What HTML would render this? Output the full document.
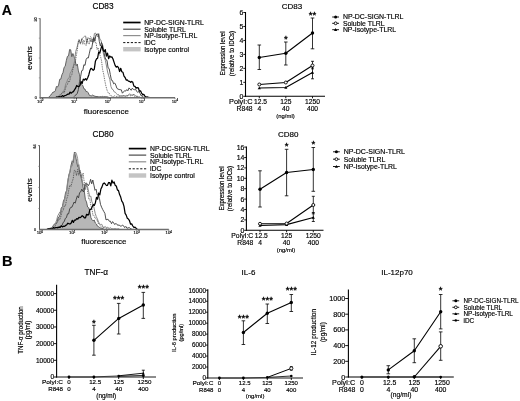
<!DOCTYPE html>
<html><head><meta charset="utf-8"><title>Figure</title>
<style>html,body{margin:0;padding:0;background:#fff;}body{width:520px;height:401px;overflow:hidden;font-family:"Liberation Sans",sans-serif;}svg{display:block;filter:blur(0.3px);}text{stroke:#000;stroke-width:0.16px;}</style>
</head><body>
<svg width="520" height="401" viewBox="0 0 520 401" font-family="Liberation Sans, sans-serif">
<rect width="520" height="401" fill="#fff"/>
<text x="1.8" y="15.2" font-size="14" text-anchor="start" font-weight="bold" fill="#000" >A</text>
<text x="2.0" y="265.7" font-size="14.6" text-anchor="start" font-weight="bold" fill="#000" >B</text>
<polygon points="48.7,97.7 48.7,97.4 49.8,95.9 50.9,95.0 52.0,93.4 53.1,92.0 54.2,92.0 55.3,90.8 56.4,86.5 57.5,87.0 58.6,85.1 59.7,79.3 60.8,79.1 61.9,74.8 63.0,72.6 64.1,67.3 65.2,66.3 66.3,60.6 67.4,56.4 68.5,55.9 69.6,49.5 70.7,49.8 71.8,56.7 72.9,53.5 74.0,56.4 75.1,60.2 76.2,65.6 77.3,64.1 78.4,70.9 79.5,74.6 80.6,81.4 81.7,84.6 82.8,85.4 83.9,88.8 85.0,89.1 86.1,91.6 87.2,91.5 88.3,92.9 89.4,95.4 90.5,95.6 91.6,95.8 92.7,94.9 93.8,96.0 94.9,96.1 96.0,96.6 97.1,96.4 98.2,96.7 99.3,96.8 100.4,96.6 101.5,96.7 102.6,96.4 103.7,96.8 104.8,96.6 105.9,96.8 107.0,96.8 108.1,97.1 109.2,97.6 109.2,97.7" fill="#b7b7b7" stroke="#444" stroke-width="0.8" stroke-linejoin="round"/>
<polyline points="59.2,97.3 60.3,96.1 61.4,93.9 62.5,93.0 63.6,91.7 64.7,88.3 65.8,83.7 66.9,81.5 68.0,78.6 69.1,78.1 70.2,73.1 71.3,71.3 72.4,68.7 73.5,65.6 74.6,60.9 75.7,51.5 76.8,48.1 77.9,43.9 79.0,39.5 80.1,43.3 81.2,41.7 82.3,38.3 83.4,37.4 84.5,36.3 85.6,36.0 86.7,43.3 87.8,38.5 88.9,37.9 90.0,39.4 91.1,42.0 92.2,38.9 93.3,42.1 94.4,33.5 95.5,33.0 96.6,34.9 97.7,37.0 98.8,33.7 99.9,39.3 101.0,40.2 102.1,45.3 103.2,52.7 104.3,57.6 105.4,60.5 106.5,66.0 107.6,72.0 108.7,75.8 109.8,79.3 110.9,86.4 112.0,89.1 113.1,89.7 114.2,91.9 115.3,92.2 116.4,93.5 117.5,94.8 118.6,94.6 119.7,96.1 120.8,95.7 121.9,96.1 123.0,95.4 124.1,96.1 125.2,96.0 126.3,95.4 127.4,95.9 128.5,95.0 129.6,93.7 130.7,95.0 131.8,94.9 132.9,95.0 134.0,94.5 135.1,95.3 136.2,96.5 137.3,96.6 138.4,97.0 139.5,96.9 140.6,97.6 141.7,97.3" fill="none" stroke="#8a8a8a" stroke-width="1.0" stroke-linejoin="round" />
<polyline points="57.5,97.2 58.6,96.1 59.7,95.0 60.8,93.8 61.9,93.2 63.0,91.8 64.1,93.1 65.2,89.6 66.3,85.5 67.4,84.4 68.5,80.9 69.6,81.5 70.7,76.6 71.8,74.8 72.9,69.1 74.0,64.8 75.1,63.4 76.2,56.2 77.3,50.0 78.4,40.9 79.5,40.3 80.6,44.1 81.7,38.4 82.8,44.3 83.9,40.1 85.0,44.5 86.1,45.7 87.2,37.8 88.3,43.8 89.4,43.7 90.5,36.7 91.6,37.7 92.7,43.1 93.8,37.9 94.9,42.6 96.0,42.2 97.1,49.7 98.2,47.9 99.3,54.2 100.4,56.0 101.5,60.5 102.6,69.6 103.7,74.3 104.8,80.7 105.9,86.0 107.0,90.1 108.1,92.7 109.2,93.2 110.3,95.8 111.4,95.9 112.5,96.5 113.6,96.6 114.7,95.8 115.8,96.3 116.9,96.5 118.0,96.3 119.1,96.0 120.2,96.9 121.3,95.5 122.4,96.9 123.5,95.9 124.6,95.7 125.7,96.9 126.8,95.5 127.9,95.8 129.0,95.0 130.1,95.8 131.2,95.5 132.3,95.6 133.4,94.6 134.5,96.4 135.6,96.0 136.7,96.1 137.8,96.4 138.9,97.2 140.0,97.4" fill="none" stroke="#333" stroke-width="0.8" stroke-linejoin="round" stroke-dasharray="0.9,0.9"/>
<polyline points="74.0,96.7 75.1,95.4 76.2,94.8 77.3,93.3 78.4,89.5 79.5,81.7 80.6,76.7 81.7,70.7 82.8,70.3 83.9,64.7 85.0,65.4 86.1,59.5 87.2,57.8 88.3,58.0 89.4,53.2 90.5,48.1 91.6,48.8 92.7,42.6 93.8,37.5 94.9,41.0 96.0,34.7 97.1,34.4 98.2,33.8 99.3,41.3 100.4,46.1 101.5,42.5 102.6,45.1 103.7,50.8 104.8,56.7 105.9,59.7 107.0,60.3 108.1,67.9 109.2,68.7 110.3,74.5 111.4,80.2 112.5,80.6 113.6,83.8 114.7,83.0 115.8,85.0 116.9,88.3 118.0,89.1 119.1,89.5 120.2,89.7 121.3,89.8 122.4,93.2 123.5,92.0 124.6,90.7 125.7,91.1 126.8,89.6 127.9,90.8 129.0,87.9 130.1,89.0 131.2,90.3 132.3,88.2 133.4,89.4 134.5,89.7 135.6,89.2 136.7,91.5 137.8,92.3 138.9,91.6 140.0,93.2 141.1,95.8 142.2,95.5 143.3,97.5" fill="none" stroke="#3a3a3a" stroke-width="0.9" stroke-linejoin="round" />
<polyline points="55.8,97.6 56.9,96.9 58.0,97.3 59.1,96.6 60.2,97.1 61.3,96.7 62.4,95.6 63.5,96.4 64.6,95.7 65.7,95.5 66.8,94.8 67.9,94.1 69.0,94.1 70.1,92.1 71.2,93.2 72.3,92.1 73.4,91.6 74.5,89.8 75.6,88.2 76.7,85.5 77.8,86.4 78.9,86.6 80.0,85.3 81.1,81.5 82.2,83.4 83.3,79.2 84.4,80.0 85.5,78.7 86.6,80.0 87.7,77.7 88.8,74.9 89.9,70.6 91.0,68.3 92.1,69.1 93.2,70.3 94.3,69.2 95.4,61.3 96.5,58.9 97.6,58.2 98.7,52.0 99.8,53.2 100.9,48.9 102.0,45.6 103.1,50.4 104.2,51.6 105.3,49.6 106.4,56.1 107.5,53.1 108.6,58.7 109.7,56.0 110.8,57.1 111.9,56.9 113.0,59.0 114.1,62.4 115.2,65.6 116.3,67.2 117.4,66.3 118.5,67.7 119.6,71.5 120.7,68.3 121.8,71.7 122.9,72.2 124.0,76.2 125.1,77.5 126.2,80.1 127.3,79.9 128.4,81.1 129.5,81.3 130.6,82.3 131.7,81.4 132.8,82.3 133.9,86.1 135.0,86.3 136.1,88.1 137.2,87.6 138.3,87.8 139.4,91.2 140.5,90.8 141.6,93.1 142.7,94.7 143.8,94.4 144.9,96.2 146.0,97.0 147.1,96.9 148.2,97.3 149.3,97.4" fill="none" stroke="#000" stroke-width="1.25" stroke-linejoin="round" />
<line x1="40.1" y1="18.3" x2="40.1" y2="98.2" stroke="#5a5a5a" stroke-width="1" />
<line x1="38.6" y1="18.6" x2="40.1" y2="18.6" stroke="#5a5a5a" stroke-width="0.7" />
<line x1="39.6" y1="97.7" x2="175" y2="97.7" stroke="#6e6e6e" stroke-width="1.6" />
<line x1="40.3" y1="97.7" x2="40.3" y2="99.2" stroke="#6a6a6a" stroke-width="0.8" />
<text x="40.199999999999996" y="102.60000000000001" font-size="4.3" text-anchor="middle" fill="#111">10<tspan dy="-1.5" font-size="2.8">0</tspan></text>
<line x1="74.2" y1="97.7" x2="74.2" y2="99.2" stroke="#6a6a6a" stroke-width="0.8" />
<text x="74.10000000000001" y="102.60000000000001" font-size="4.3" text-anchor="middle" fill="#111">10<tspan dy="-1.5" font-size="2.8">1</tspan></text>
<line x1="108" y1="97.7" x2="108" y2="99.2" stroke="#6a6a6a" stroke-width="0.8" />
<text x="107.9" y="102.60000000000001" font-size="4.3" text-anchor="middle" fill="#111">10<tspan dy="-1.5" font-size="2.8">2</tspan></text>
<line x1="141.9" y1="97.7" x2="141.9" y2="99.2" stroke="#6a6a6a" stroke-width="0.8" />
<text x="141.8" y="102.60000000000001" font-size="4.3" text-anchor="middle" fill="#111">10<tspan dy="-1.5" font-size="2.8">3</tspan></text>
<line x1="175" y1="97.7" x2="175" y2="99.2" stroke="#6a6a6a" stroke-width="0.8" />
<text x="174.9" y="102.60000000000001" font-size="4.3" text-anchor="middle" fill="#111">10<tspan dy="-1.5" font-size="2.8">4</tspan></text>
<line x1="38.800000000000004" y1="77.85" x2="40.1" y2="77.85" stroke="#777" stroke-width="0.6" />
<line x1="38.800000000000004" y1="58.0" x2="40.1" y2="58.0" stroke="#777" stroke-width="0.6" />
<line x1="38.800000000000004" y1="38.15" x2="40.1" y2="38.15" stroke="#777" stroke-width="0.6" />
<text x="36.9" y="19.5" font-size="3.6" text-anchor="middle" font-weight="normal" fill="#222" transform="rotate(-90 36.9 19.5)" >50</text>
<text x="35.7" y="99.0" font-size="3.6" text-anchor="middle" font-weight="normal" fill="#222" >0</text>
<text x="103" y="9.3" font-size="8.3" text-anchor="middle" font-weight="normal" fill="#000" >CD83</text>
<text x="31.8" y="58" font-size="8" text-anchor="middle" font-weight="normal" fill="#000" transform="rotate(-90 31.8 58)" >events</text>
<text x="106.3" y="114.3" font-size="8" text-anchor="middle" font-weight="normal" fill="#000" textLength="45" lengthAdjust="spacingAndGlyphs" >fluorescence</text>
<line x1="123.2" y1="22.5" x2="140.6" y2="22.5" stroke="#000" stroke-width="1.7" />
<line x1="123.2" y1="29.2" x2="140.6" y2="29.2" stroke="#3a3a3a" stroke-width="1.1" />
<line x1="123.2" y1="35.6" x2="140.6" y2="35.6" stroke="#8f8f8f" stroke-width="1.2" />
<line x1="123.2" y1="42.6" x2="140.6" y2="42.6" stroke="#111" stroke-width="1.0" stroke-dasharray="2.2,1.6"/>
<rect x="123.2" y="47.0" width="17.39999999999999" height="4.4" fill="#c4c4c4"/>
<text x="144.2" y="25.2" font-size="6.9" text-anchor="start" font-weight="normal" fill="#000" textLength="59.6" lengthAdjust="spacingAndGlyphs" >NP-DC-SIGN-TLRL</text>
<text x="144.2" y="31.599999999999998" font-size="6.9" text-anchor="start" font-weight="normal" fill="#000" >Soluble TLRL</text>
<text x="144.2" y="38.0" font-size="6.9" text-anchor="start" font-weight="normal" fill="#000" >NP-Isotype-TLRL</text>
<text x="144.2" y="45.0" font-size="6.9" text-anchor="start" font-weight="normal" fill="#000" >iDC</text>
<text x="144.2" y="51.6" font-size="6.9" text-anchor="start" font-weight="normal" fill="#000" >Isotype control</text>
<polygon points="50.2,229.5 50.2,229.2 51.3,227.8 52.4,226.9 53.5,225.3 54.6,223.9 55.7,223.9 56.8,222.6 57.9,218.0 59.0,217.2 60.1,214.5 61.2,208.0 62.3,206.8 63.4,201.1 64.5,198.7 65.6,192.4 66.7,190.4 67.8,181.7 68.9,174.6 70.0,172.1 71.1,165.1 72.2,160.8 73.3,162.4 74.4,152.1 75.5,155.7 76.6,161.4 77.7,166.6 78.8,164.7 79.9,173.6 81.0,177.2 82.1,181.7 83.2,187.8 84.3,191.5 85.4,199.6 86.5,201.9 87.6,207.0 88.7,207.7 89.8,211.2 90.9,217.6 92.0,219.8 93.1,220.9 94.2,220.0 95.3,223.0 96.4,224.0 97.5,226.2 98.6,226.7 99.7,227.5 100.8,228.1 101.9,228.3 103.0,228.9 103.0,229.5" fill="#b7b7b7" stroke="#444" stroke-width="0.8" stroke-linejoin="round"/>
<polyline points="51.2,229.2 52.3,227.8 53.4,225.5 54.5,224.3 55.6,222.9 56.7,219.9 57.8,215.7 58.9,213.8 60.0,211.7 61.1,212.2 62.2,207.5 63.3,204.3 64.4,200.4 65.5,196.3 66.6,190.9 67.7,180.5 68.8,176.1 69.9,170.9 71.0,165.6 72.1,166.1 73.2,159.8 74.3,154.3 75.4,152.0 76.5,154.2 77.6,158.4 78.7,170.4 79.8,169.8 80.9,173.4 82.0,179.1 83.1,184.9 84.2,184.6 85.3,189.6 86.4,184.5 87.5,186.6 88.6,191.5 89.7,196.7 90.8,196.1 91.9,201.9 93.0,204.0 94.1,208.1 95.2,213.4 96.3,216.7 97.4,218.9 98.5,221.9 99.6,223.9 100.7,224.5 101.8,224.3 102.9,227.1 104.0,227.4 105.1,226.5 106.2,227.5 107.3,227.3 108.4,227.8 109.5,228.3 110.6,227.7 111.7,228.9 112.8,228.7 113.9,229.0 115.0,228.6 116.1,229.0 117.2,229.0 118.3,228.7 119.4,229.1" fill="none" stroke="#8a8a8a" stroke-width="1.0" stroke-linejoin="round" />
<polyline points="53.4,228.9 54.5,226.9 55.6,225.0 56.7,222.7 57.8,221.5 58.9,218.6 60.0,219.7 61.1,215.6 62.2,211.0 63.3,210.1 64.4,205.5 65.5,205.7 66.6,199.1 67.7,196.3 68.8,189.7 69.9,185.0 71.0,186.3 72.1,181.9 73.2,178.7 74.3,170.3 75.4,170.6 76.5,175.7 77.6,169.6 78.7,175.2 79.8,170.4 80.9,174.6 82.0,177.6 83.1,173.0 84.2,182.0 85.3,185.9 86.4,184.5 87.5,190.2 88.6,198.7 89.7,198.4 90.8,205.2 91.9,208.7 93.0,215.5 94.1,215.7 95.2,218.4 96.3,219.0 97.4,220.9 98.5,224.0 99.6,224.8 100.7,226.2 101.8,227.2 102.9,228.2 104.0,228.0 105.1,227.8 106.2,228.9 107.3,228.2 108.4,228.8 109.5,229.1" fill="none" stroke="#333" stroke-width="0.8" stroke-linejoin="round" stroke-dasharray="0.9,0.9"/>
<polyline points="57.6,228.8 58.7,227.3 59.8,226.6 60.9,226.0 62.0,225.6 63.1,222.5 64.2,221.7 65.3,218.4 66.4,217.7 67.5,213.8 68.6,213.9 69.7,209.0 70.8,207.3 71.9,207.2 73.0,204.7 74.1,202.0 75.2,203.2 76.3,199.1 77.4,195.8 78.5,197.9 79.6,192.6 80.7,191.9 81.8,189.1 82.9,191.4 84.0,191.6 85.1,184.5 86.2,182.8 87.3,184.1 88.4,185.7 89.5,183.5 90.6,179.3 91.7,183.8 92.8,180.0 93.9,185.1 95.0,190.3 96.1,189.2 97.2,194.9 98.3,194.5 99.4,198.3 100.5,204.4 101.6,207.2 102.7,209.5 103.8,211.5 104.9,213.4 106.0,219.9 107.1,219.4 108.2,219.4 109.3,221.3 110.4,221.2 111.5,223.7 112.6,221.6 113.7,223.0 114.8,224.6 115.9,223.3 117.0,224.7 118.1,225.3 119.2,224.9 120.3,226.1 121.4,226.2 122.5,225.0 123.6,225.8 124.7,227.6 125.8,226.4 126.9,228.2 128.0,228.0 129.1,227.5 130.2,228.3 131.3,229.0 132.4,229.3" fill="none" stroke="#3a3a3a" stroke-width="0.9" stroke-linejoin="round" />
<polyline points="47.0,229.4 48.1,228.7 49.2,229.1 50.3,228.4 51.4,228.9 52.5,228.6 53.6,227.5 54.7,228.3 55.8,227.5 56.9,227.6 58.0,227.4 59.1,227.2 60.2,227.4 61.3,225.9 62.4,226.9 63.5,226.2 64.6,226.3 65.7,225.4 66.8,224.7 67.9,223.2 69.0,223.8 70.1,223.9 71.2,223.0 72.3,220.3 73.4,222.4 74.5,220.1 75.6,220.2 76.7,218.7 77.8,219.1 78.9,217.3 80.0,217.7 81.1,216.9 82.2,215.7 83.3,216.5 84.4,217.9 85.5,217.9 86.6,214.3 87.7,215.1 88.8,214.4 89.9,209.4 91.0,209.4 92.1,207.0 93.2,204.6 94.3,205.4 95.4,202.7 96.5,197.3 97.6,199.1 98.7,193.0 99.8,194.9 100.9,189.0 102.0,186.9 103.1,183.8 104.2,183.0 105.3,184.0 106.4,185.5 107.5,185.3 108.6,182.5 109.7,182.7 110.8,185.9 111.9,180.2 113.0,183.1 114.1,181.9 115.2,185.4 116.3,186.0 117.4,189.9 118.5,190.6 119.6,194.6 120.7,197.1 121.8,201.2 122.9,202.7 124.0,206.4 125.1,213.4 126.2,215.1 127.3,218.3 128.4,219.1 129.5,220.7 130.6,224.2 131.7,223.9 132.8,226.0 133.9,227.5 135.0,227.1 136.1,228.3 137.2,229.1" fill="none" stroke="#000" stroke-width="1.25" stroke-linejoin="round" />
<line x1="39.5" y1="145.3" x2="39.5" y2="230.0" stroke="#5a5a5a" stroke-width="1" />
<line x1="38.0" y1="145.60000000000002" x2="39.5" y2="145.60000000000002" stroke="#5a5a5a" stroke-width="0.7" />
<line x1="39.0" y1="229.5" x2="168.8" y2="229.5" stroke="#6e6e6e" stroke-width="1.6" />
<line x1="40" y1="229.5" x2="40" y2="231.0" stroke="#6a6a6a" stroke-width="0.8" />
<text x="39.9" y="234.4" font-size="4.3" text-anchor="middle" fill="#111">10<tspan dy="-1.5" font-size="2.8">0</tspan></text>
<line x1="72.3" y1="229.5" x2="72.3" y2="231.0" stroke="#6a6a6a" stroke-width="0.8" />
<text x="72.2" y="234.4" font-size="4.3" text-anchor="middle" fill="#111">10<tspan dy="-1.5" font-size="2.8">1</tspan></text>
<line x1="104.6" y1="229.5" x2="104.6" y2="231.0" stroke="#6a6a6a" stroke-width="0.8" />
<text x="104.5" y="234.4" font-size="4.3" text-anchor="middle" fill="#111">10<tspan dy="-1.5" font-size="2.8">2</tspan></text>
<line x1="136.8" y1="229.5" x2="136.8" y2="231.0" stroke="#6a6a6a" stroke-width="0.8" />
<text x="136.70000000000002" y="234.4" font-size="4.3" text-anchor="middle" fill="#111">10<tspan dy="-1.5" font-size="2.8">3</tspan></text>
<line x1="168.8" y1="229.5" x2="168.8" y2="231.0" stroke="#6a6a6a" stroke-width="0.8" />
<text x="168.70000000000002" y="234.4" font-size="4.3" text-anchor="middle" fill="#111">10<tspan dy="-1.5" font-size="2.8">4</tspan></text>
<line x1="38.2" y1="208.45" x2="39.5" y2="208.45" stroke="#777" stroke-width="0.6" />
<line x1="38.2" y1="187.4" x2="39.5" y2="187.4" stroke="#777" stroke-width="0.6" />
<line x1="38.2" y1="166.35000000000002" x2="39.5" y2="166.35000000000002" stroke="#777" stroke-width="0.6" />
<text x="36.3" y="146.5" font-size="3.6" text-anchor="middle" font-weight="normal" fill="#222" transform="rotate(-90 36.3 146.5)" >64</text>
<text x="35.1" y="230.8" font-size="3.6" text-anchor="middle" font-weight="normal" fill="#222" >0</text>
<text x="103" y="137.3" font-size="8.3" text-anchor="middle" font-weight="normal" fill="#000" >CD80</text>
<text x="31.8" y="190" font-size="8" text-anchor="middle" font-weight="normal" fill="#000" transform="rotate(-90 31.8 190)" >events</text>
<text x="103.8" y="244.3" font-size="8" text-anchor="middle" font-weight="normal" fill="#000" textLength="45" lengthAdjust="spacingAndGlyphs" >fluorescence</text>
<line x1="128.8" y1="148.6" x2="146.2" y2="148.6" stroke="#000" stroke-width="1.7" />
<line x1="128.8" y1="155.1" x2="146.2" y2="155.1" stroke="#3a3a3a" stroke-width="1.1" />
<line x1="128.8" y1="161.8" x2="146.2" y2="161.8" stroke="#8f8f8f" stroke-width="1.2" />
<line x1="128.8" y1="168.8" x2="146.2" y2="168.8" stroke="#111" stroke-width="1.0" stroke-dasharray="2.2,1.6"/>
<rect x="128.8" y="173.3" width="17.399999999999977" height="4.4" fill="#c4c4c4"/>
<text x="150" y="151.3" font-size="6.9" text-anchor="start" font-weight="normal" fill="#000" textLength="59.6" lengthAdjust="spacingAndGlyphs" >NP-DC-SIGN-TLRL</text>
<text x="150" y="157.5" font-size="6.9" text-anchor="start" font-weight="normal" fill="#000" >Soluble TLRL</text>
<text x="150" y="164.20000000000002" font-size="6.9" text-anchor="start" font-weight="normal" fill="#000" >NP-Isotype-TLRL</text>
<text x="150" y="171.20000000000002" font-size="6.9" text-anchor="start" font-weight="normal" fill="#000" >iDC</text>
<text x="150" y="177.9" font-size="6.9" text-anchor="start" font-weight="normal" fill="#000" >Isotype control</text>
<line x1="245.5" y1="12.0" x2="245.5" y2="96.8" stroke="#000" stroke-width="1.1" />
<line x1="245.0" y1="96.3" x2="325" y2="96.3" stroke="#000" stroke-width="1.1" />
<line x1="243.3" y1="96.3" x2="245.5" y2="96.3" stroke="#000" stroke-width="0.9" />
<text x="243.4" y="98.78399999999999" font-size="6.9" text-anchor="end" font-weight="normal" fill="#000" >0</text>
<line x1="243.3" y1="82.335" x2="245.5" y2="82.335" stroke="#000" stroke-width="0.9" />
<text x="243.4" y="84.81899999999999" font-size="6.9" text-anchor="end" font-weight="normal" fill="#000" >1</text>
<line x1="243.3" y1="68.37" x2="245.5" y2="68.37" stroke="#000" stroke-width="0.9" />
<text x="243.4" y="70.854" font-size="6.9" text-anchor="end" font-weight="normal" fill="#000" >2</text>
<line x1="243.3" y1="54.404999999999994" x2="245.5" y2="54.404999999999994" stroke="#000" stroke-width="0.9" />
<text x="243.4" y="56.888999999999996" font-size="6.9" text-anchor="end" font-weight="normal" fill="#000" >3</text>
<line x1="243.3" y1="40.44" x2="245.5" y2="40.44" stroke="#000" stroke-width="0.9" />
<text x="243.4" y="42.924" font-size="6.9" text-anchor="end" font-weight="normal" fill="#000" >4</text>
<line x1="243.3" y1="26.474999999999994" x2="245.5" y2="26.474999999999994" stroke="#000" stroke-width="0.9" />
<text x="243.4" y="28.958999999999996" font-size="6.9" text-anchor="end" font-weight="normal" fill="#000" >5</text>
<line x1="243.3" y1="12.509999999999991" x2="245.5" y2="12.509999999999991" stroke="#000" stroke-width="0.9" />
<text x="243.4" y="14.993999999999991" font-size="6.9" text-anchor="end" font-weight="normal" fill="#000" >6</text>
<line x1="259.3" y1="96.3" x2="259.3" y2="98.3" stroke="#000" stroke-width="0.9" />
<line x1="285.8" y1="96.3" x2="285.8" y2="98.3" stroke="#000" stroke-width="0.9" />
<line x1="312.5" y1="96.3" x2="312.5" y2="98.3" stroke="#000" stroke-width="0.9" />
<line x1="259.3" y1="45" x2="259.3" y2="69.5" stroke="#000" stroke-width="0.8" />
<line x1="257.5" y1="45" x2="261.1" y2="45" stroke="#000" stroke-width="0.8" />
<line x1="257.5" y1="69.5" x2="261.1" y2="69.5" stroke="#000" stroke-width="0.8" />
<line x1="285.8" y1="42" x2="285.8" y2="65" stroke="#000" stroke-width="0.8" />
<line x1="284.0" y1="42" x2="287.6" y2="42" stroke="#000" stroke-width="0.8" />
<line x1="284.0" y1="65" x2="287.6" y2="65" stroke="#000" stroke-width="0.8" />
<line x1="312.5" y1="18" x2="312.5" y2="48.8" stroke="#000" stroke-width="0.8" />
<line x1="310.7" y1="18" x2="314.3" y2="18" stroke="#000" stroke-width="0.8" />
<line x1="310.7" y1="48.8" x2="314.3" y2="48.8" stroke="#000" stroke-width="0.8" />
<polyline points="259.3,57.5 285.8,53.3 312.5,33.0" fill="none" stroke="#000" stroke-width="1.1" stroke-linejoin="round" />
<line x1="312.5" y1="61.3" x2="312.5" y2="68.8" stroke="#000" stroke-width="0.8" />
<line x1="311.0" y1="61.3" x2="314.0" y2="61.3" stroke="#000" stroke-width="0.8" />
<line x1="311.0" y1="68.8" x2="314.0" y2="68.8" stroke="#000" stroke-width="0.8" />
<line x1="312.5" y1="67" x2="312.5" y2="78.8" stroke="#000" stroke-width="0.8" />
<line x1="311.0" y1="67" x2="314.0" y2="67" stroke="#000" stroke-width="0.8" />
<line x1="311.0" y1="78.8" x2="314.0" y2="78.8" stroke="#000" stroke-width="0.8" />
<polyline points="259.3,88.0 285.8,87.5 312.5,72.5" fill="none" stroke="#000" stroke-width="1.1" stroke-linejoin="round" />
<polyline points="259.3,84.5 285.8,82.5 312.5,65.5" fill="none" stroke="#000" stroke-width="1.1" stroke-linejoin="round" />
<circle cx="259.3" cy="57.5" r="1.7" fill="#000"/>
<circle cx="285.8" cy="53.3" r="1.7" fill="#000"/>
<circle cx="312.5" cy="33" r="1.7" fill="#000"/>
<polygon points="259.3,86.4 260.90000000000003,89.28 257.7,89.28" fill="#000"/>
<polygon points="285.8,85.9 287.40000000000003,88.78 284.2,88.78" fill="#000"/>
<polygon points="312.5,70.9 314.1,73.78 310.9,73.78" fill="#000"/>
<circle cx="259.3" cy="84.5" r="1.5" fill="#fff" stroke="#000" stroke-width="0.9"/>
<circle cx="285.8" cy="82.5" r="1.5" fill="#fff" stroke="#000" stroke-width="0.9"/>
<circle cx="312.5" cy="65.5" r="1.5" fill="#fff" stroke="#000" stroke-width="0.9"/>
<text x="285.8" y="41.82" font-size="9.6" text-anchor="middle" font-weight="normal" fill="#000" style="stroke-width:0.35px">*</text>
<text x="312.5" y="18.12" font-size="9.6" text-anchor="middle" font-weight="normal" fill="#000" style="stroke-width:0.35px">**</text>
<text x="292" y="8.5" font-size="8" text-anchor="middle" font-weight="normal" fill="#000" >CD83</text>
<text x="225.4" y="53.5" font-size="6.8" text-anchor="middle" font-weight="normal" fill="#000" textLength="44" lengthAdjust="spacingAndGlyphs" transform="rotate(-90 225.4 53.5)" >Expression level</text>
<text x="233.7" y="53.5" font-size="6.8" text-anchor="middle" font-weight="normal" fill="#000" textLength="45.3" lengthAdjust="spacingAndGlyphs" transform="rotate(-90 233.7 53.5)" >(relative to iDCs)</text>
<text x="252.6" y="104.4" font-size="6.7" text-anchor="end" font-weight="normal" fill="#000" textLength="23.6" lengthAdjust="spacingAndGlyphs" >PolyI:C</text>
<text x="252.6" y="111.3" font-size="6.7" text-anchor="end" font-weight="normal" fill="#000" >R848</text>
<text x="260.6" y="104.4" font-size="6.7" text-anchor="middle" font-weight="normal" fill="#000" >12.5</text>
<text x="285.8" y="104.4" font-size="6.7" text-anchor="middle" font-weight="normal" fill="#000" >125</text>
<text x="312.5" y="104.4" font-size="6.7" text-anchor="middle" font-weight="normal" fill="#000" >1250</text>
<text x="259.3" y="111.3" font-size="6.7" text-anchor="middle" font-weight="normal" fill="#000" >4</text>
<text x="285.8" y="111.3" font-size="6.7" text-anchor="middle" font-weight="normal" fill="#000" >40</text>
<text x="312.5" y="111.3" font-size="6.7" text-anchor="middle" font-weight="normal" fill="#000" >400</text>
<text x="285.5" y="118" font-size="5.9" text-anchor="middle" font-weight="normal" fill="#000" >(ng/ml)</text>
<line x1="332.20000000000005" y1="17.0" x2="339.0" y2="17.0" stroke="#000" stroke-width="0.9" />
<circle cx="335.6" cy="17.0" r="1.5" fill="#000"/>
<text x="342.9" y="19.4" font-size="6.9" text-anchor="start" font-weight="normal" fill="#000" textLength="60.5" lengthAdjust="spacingAndGlyphs" >NP-DC-SIGN-TLRL</text>
<line x1="332.20000000000005" y1="23.3" x2="339.0" y2="23.3" stroke="#000" stroke-width="0.9" />
<circle cx="335.6" cy="23.3" r="1.4" fill="#fff" stroke="#000" stroke-width="0.9"/>
<text x="342.9" y="25.7" font-size="6.9" text-anchor="start" font-weight="normal" fill="#000" >Soluble TLRL</text>
<line x1="332.20000000000005" y1="29.7" x2="339.0" y2="29.7" stroke="#000" stroke-width="0.9" />
<polygon points="335.6,28.099999999999998 337.20000000000005,30.98 334.0,30.98" fill="#000"/>
<text x="342.9" y="32.1" font-size="6.9" text-anchor="start" font-weight="normal" fill="#000" >NP-Isotype-TLRL</text>
<line x1="246.4" y1="146.6" x2="246.4" y2="230.8" stroke="#000" stroke-width="1.1" />
<line x1="245.9" y1="230.3" x2="323.5" y2="230.3" stroke="#000" stroke-width="1.1" />
<line x1="244.20000000000002" y1="230.3" x2="246.4" y2="230.3" stroke="#000" stroke-width="0.9" />
<text x="244.3" y="232.78400000000002" font-size="6.9" text-anchor="end" font-weight="normal" fill="#000" >0</text>
<line x1="244.20000000000002" y1="219.9" x2="246.4" y2="219.9" stroke="#000" stroke-width="0.9" />
<text x="244.3" y="222.38400000000001" font-size="6.9" text-anchor="end" font-weight="normal" fill="#000" >2</text>
<line x1="244.20000000000002" y1="209.5" x2="246.4" y2="209.5" stroke="#000" stroke-width="0.9" />
<text x="244.3" y="211.984" font-size="6.9" text-anchor="end" font-weight="normal" fill="#000" >4</text>
<line x1="244.20000000000002" y1="199.10000000000002" x2="246.4" y2="199.10000000000002" stroke="#000" stroke-width="0.9" />
<text x="244.3" y="201.58400000000003" font-size="6.9" text-anchor="end" font-weight="normal" fill="#000" >6</text>
<line x1="244.20000000000002" y1="188.70000000000002" x2="246.4" y2="188.70000000000002" stroke="#000" stroke-width="0.9" />
<text x="244.3" y="191.18400000000003" font-size="6.9" text-anchor="end" font-weight="normal" fill="#000" >8</text>
<line x1="244.20000000000002" y1="178.3" x2="246.4" y2="178.3" stroke="#000" stroke-width="0.9" />
<text x="244.3" y="180.78400000000002" font-size="6.9" text-anchor="end" font-weight="normal" fill="#000" >10</text>
<line x1="244.20000000000002" y1="167.9" x2="246.4" y2="167.9" stroke="#000" stroke-width="0.9" />
<text x="244.3" y="170.38400000000001" font-size="6.9" text-anchor="end" font-weight="normal" fill="#000" >12</text>
<line x1="244.20000000000002" y1="157.5" x2="246.4" y2="157.5" stroke="#000" stroke-width="0.9" />
<text x="244.3" y="159.984" font-size="6.9" text-anchor="end" font-weight="normal" fill="#000" >14</text>
<line x1="244.20000000000002" y1="147.10000000000002" x2="246.4" y2="147.10000000000002" stroke="#000" stroke-width="0.9" />
<text x="244.3" y="149.58400000000003" font-size="6.9" text-anchor="end" font-weight="normal" fill="#000" >16</text>
<line x1="260" y1="230.3" x2="260" y2="232.3" stroke="#000" stroke-width="0.9" />
<line x1="286.6" y1="230.3" x2="286.6" y2="232.3" stroke="#000" stroke-width="0.9" />
<line x1="313.3" y1="230.3" x2="313.3" y2="232.3" stroke="#000" stroke-width="0.9" />
<line x1="260" y1="170.8" x2="260" y2="207" stroke="#000" stroke-width="0.8" />
<line x1="258.2" y1="170.8" x2="261.8" y2="170.8" stroke="#000" stroke-width="0.8" />
<line x1="258.2" y1="207" x2="261.8" y2="207" stroke="#000" stroke-width="0.8" />
<line x1="286.6" y1="149.3" x2="286.6" y2="195.8" stroke="#000" stroke-width="0.8" />
<line x1="284.8" y1="149.3" x2="288.40000000000003" y2="149.3" stroke="#000" stroke-width="0.8" />
<line x1="284.8" y1="195.8" x2="288.40000000000003" y2="195.8" stroke="#000" stroke-width="0.8" />
<line x1="313.3" y1="147.5" x2="313.3" y2="191.3" stroke="#000" stroke-width="0.8" />
<line x1="311.5" y1="147.5" x2="315.1" y2="147.5" stroke="#000" stroke-width="0.8" />
<line x1="311.5" y1="191.3" x2="315.1" y2="191.3" stroke="#000" stroke-width="0.8" />
<polyline points="260.0,189.3 286.6,172.5 313.3,169.5" fill="none" stroke="#000" stroke-width="1.1" stroke-linejoin="round" />
<line x1="313.3" y1="196.3" x2="313.3" y2="213.8" stroke="#000" stroke-width="0.8" />
<line x1="311.8" y1="196.3" x2="314.8" y2="196.3" stroke="#000" stroke-width="0.8" />
<line x1="311.8" y1="213.8" x2="314.8" y2="213.8" stroke="#000" stroke-width="0.8" />
<line x1="313.3" y1="212.5" x2="313.3" y2="221.5" stroke="#000" stroke-width="0.8" />
<line x1="311.8" y1="212.5" x2="314.8" y2="212.5" stroke="#000" stroke-width="0.8" />
<line x1="311.8" y1="221.5" x2="314.8" y2="221.5" stroke="#000" stroke-width="0.8" />
<polyline points="260.0,225.5 286.6,224.6 313.3,217.5" fill="none" stroke="#000" stroke-width="1.1" stroke-linejoin="round" />
<polyline points="260.0,223.8 286.6,223.5 313.3,205.0" fill="none" stroke="#000" stroke-width="1.1" stroke-linejoin="round" />
<circle cx="260" cy="189.3" r="1.7" fill="#000"/>
<circle cx="286.6" cy="172.5" r="1.7" fill="#000"/>
<circle cx="313.3" cy="169.5" r="1.7" fill="#000"/>
<polygon points="260,223.9 261.6,226.78 258.4,226.78" fill="#000"/>
<polygon points="286.6,223.0 288.20000000000005,225.88 285.0,225.88" fill="#000"/>
<polygon points="313.3,215.9 314.90000000000003,218.78 311.7,218.78" fill="#000"/>
<circle cx="260" cy="223.8" r="1.5" fill="#fff" stroke="#000" stroke-width="0.9"/>
<circle cx="286.6" cy="223.5" r="1.5" fill="#fff" stroke="#000" stroke-width="0.9"/>
<circle cx="313.3" cy="205" r="1.5" fill="#fff" stroke="#000" stroke-width="0.9"/>
<text x="286.6" y="148.62" font-size="9.6" text-anchor="middle" font-weight="normal" fill="#000" style="stroke-width:0.35px">*</text>
<text x="313.3" y="147.32" font-size="9.6" text-anchor="middle" font-weight="normal" fill="#000" style="stroke-width:0.35px">*</text>
<text x="288.3" y="136.8" font-size="8" text-anchor="middle" font-weight="normal" fill="#000" >CD80</text>
<text x="223.5" y="188.5" font-size="6.8" text-anchor="middle" font-weight="normal" fill="#000" textLength="44" lengthAdjust="spacingAndGlyphs" transform="rotate(-90 223.5 188.5)" >Expression level</text>
<text x="231.8" y="188.5" font-size="6.8" text-anchor="middle" font-weight="normal" fill="#000" textLength="45.3" lengthAdjust="spacingAndGlyphs" transform="rotate(-90 231.8 188.5)" >(relative to iDCs)</text>
<text x="253.3" y="237.7" font-size="6.7" text-anchor="end" font-weight="normal" fill="#000" textLength="22" lengthAdjust="spacingAndGlyphs" >PolyI:C</text>
<text x="253.3" y="245.3" font-size="6.7" text-anchor="end" font-weight="normal" fill="#000" >R848</text>
<text x="261.3" y="237.7" font-size="6.7" text-anchor="middle" font-weight="normal" fill="#000" >12.5</text>
<text x="286.6" y="237.7" font-size="6.7" text-anchor="middle" font-weight="normal" fill="#000" >125</text>
<text x="313.3" y="237.7" font-size="6.7" text-anchor="middle" font-weight="normal" fill="#000" >1250</text>
<text x="260" y="245.3" font-size="6.7" text-anchor="middle" font-weight="normal" fill="#000" >4</text>
<text x="286.6" y="245.3" font-size="6.7" text-anchor="middle" font-weight="normal" fill="#000" >40</text>
<text x="313.3" y="245.3" font-size="6.7" text-anchor="middle" font-weight="normal" fill="#000" >400</text>
<text x="286" y="251.8" font-size="5.9" text-anchor="middle" font-weight="normal" fill="#000" >(ng/ml)</text>
<line x1="333.0" y1="151.8" x2="339.79999999999995" y2="151.8" stroke="#000" stroke-width="0.9" />
<circle cx="336.4" cy="151.8" r="1.5" fill="#000"/>
<text x="343.7" y="154.20000000000002" font-size="6.9" text-anchor="start" font-weight="normal" fill="#000" textLength="61.2" lengthAdjust="spacingAndGlyphs" >NP-DC-SIGN-TLRL</text>
<line x1="333.0" y1="159.2" x2="339.79999999999995" y2="159.2" stroke="#000" stroke-width="0.9" />
<circle cx="336.4" cy="159.2" r="1.4" fill="#fff" stroke="#000" stroke-width="0.9"/>
<text x="343.7" y="161.6" font-size="6.9" text-anchor="start" font-weight="normal" fill="#000" >Soluble TLRL</text>
<line x1="333.0" y1="166.5" x2="339.79999999999995" y2="166.5" stroke="#000" stroke-width="0.9" />
<polygon points="336.4,164.9 338.0,167.78 334.79999999999995,167.78" fill="#000"/>
<text x="343.7" y="168.9" font-size="6.9" text-anchor="start" font-weight="normal" fill="#000" >NP-Isotype-TLRL</text>
<line x1="56.6" y1="284.8" x2="56.6" y2="377.5" stroke="#000" stroke-width="1.1" />
<line x1="56.1" y1="377.0" x2="156" y2="377.0" stroke="#000" stroke-width="0.9" />
<line x1="53.9" y1="377.0" x2="56.6" y2="377.0" stroke="#000" stroke-width="0.9" />
<text x="54.0" y="379.34" font-size="6.5" text-anchor="end" font-weight="normal" fill="#000" >0</text>
<line x1="53.9" y1="360.32" x2="56.6" y2="360.32" stroke="#000" stroke-width="0.9" />
<text x="54.0" y="362.65999999999997" font-size="6.5" text-anchor="end" font-weight="normal" fill="#000" >10000</text>
<line x1="53.9" y1="343.64" x2="56.6" y2="343.64" stroke="#000" stroke-width="0.9" />
<text x="54.0" y="345.97999999999996" font-size="6.5" text-anchor="end" font-weight="normal" fill="#000" >20000</text>
<line x1="53.9" y1="326.96" x2="56.6" y2="326.96" stroke="#000" stroke-width="0.9" />
<text x="54.0" y="329.29999999999995" font-size="6.5" text-anchor="end" font-weight="normal" fill="#000" >30000</text>
<line x1="53.9" y1="310.28" x2="56.6" y2="310.28" stroke="#000" stroke-width="0.9" />
<text x="54.0" y="312.61999999999995" font-size="6.5" text-anchor="end" font-weight="normal" fill="#000" >40000</text>
<line x1="53.9" y1="293.6" x2="56.6" y2="293.6" stroke="#000" stroke-width="0.9" />
<text x="54.0" y="295.94" font-size="6.5" text-anchor="end" font-weight="normal" fill="#000" >50000</text>
<line x1="69" y1="377.0" x2="69" y2="379.0" stroke="#000" stroke-width="0.9" />
<line x1="93.9" y1="377.0" x2="93.9" y2="379.0" stroke="#000" stroke-width="0.9" />
<line x1="118.7" y1="377.0" x2="118.7" y2="379.0" stroke="#000" stroke-width="0.9" />
<line x1="143.3" y1="377.0" x2="143.3" y2="379.0" stroke="#000" stroke-width="0.9" />
<line x1="93.9" y1="325.3" x2="93.9" y2="355.2" stroke="#000" stroke-width="0.8" />
<line x1="92.10000000000001" y1="325.3" x2="95.7" y2="325.3" stroke="#000" stroke-width="0.8" />
<line x1="92.10000000000001" y1="355.2" x2="95.7" y2="355.2" stroke="#000" stroke-width="0.8" />
<line x1="118.7" y1="303.4" x2="118.7" y2="334" stroke="#000" stroke-width="0.8" />
<line x1="116.9" y1="303.4" x2="120.5" y2="303.4" stroke="#000" stroke-width="0.8" />
<line x1="116.9" y1="334" x2="120.5" y2="334" stroke="#000" stroke-width="0.8" />
<line x1="143.3" y1="292.4" x2="143.3" y2="318.4" stroke="#000" stroke-width="0.8" />
<line x1="141.5" y1="292.4" x2="145.10000000000002" y2="292.4" stroke="#000" stroke-width="0.8" />
<line x1="141.5" y1="318.4" x2="145.10000000000002" y2="318.4" stroke="#000" stroke-width="0.8" />
<polyline points="93.9,340.3 118.7,318.4 143.3,305.0" fill="none" stroke="#000" stroke-width="1.1" stroke-linejoin="round" />
<line x1="143.3" y1="370.2" x2="143.3" y2="376" stroke="#000" stroke-width="0.8" />
<line x1="141.8" y1="370.2" x2="144.8" y2="370.2" stroke="#000" stroke-width="0.8" />
<line x1="141.8" y1="376" x2="144.8" y2="376" stroke="#000" stroke-width="0.8" />
<polyline points="69.0,377.0 93.9,377.0 118.7,375.8" fill="none" stroke="#000" stroke-width="0.6" stroke-linejoin="round" />
<polyline points="118.7,375.8 143.3,373.2" fill="none" stroke="#000" stroke-width="0.9" stroke-linejoin="round" />
<polyline points="118.7,376.3 143.3,375.4" fill="none" stroke="#000" stroke-width="0.8" stroke-linejoin="round" />
<circle cx="93.9" cy="340.3" r="1.7" fill="#000"/>
<circle cx="118.7" cy="318.4" r="1.7" fill="#000"/>
<circle cx="143.3" cy="305" r="1.7" fill="#000"/>
<circle cx="69" cy="377.0" r="1.4" fill="#000"/>
<circle cx="93.9" cy="377.0" r="1.4" fill="#000"/>
<circle cx="118.7" cy="376" r="1.3" fill="#000"/>
<polygon points="143.3,371.9 144.8,374.59999999999997 141.8,374.59999999999997" fill="#000"/>
<circle cx="143.3" cy="375.6" r="1.3" fill="#000"/>
<text x="93.9" y="325.71999999999997" font-size="9.6" text-anchor="middle" font-weight="normal" fill="#000" style="stroke-width:0.35px">*</text>
<text x="118.7" y="301.82" font-size="9.6" text-anchor="middle" font-weight="normal" fill="#000" style="stroke-width:0.35px">***</text>
<text x="143.3" y="290.71999999999997" font-size="9.6" text-anchor="middle" font-weight="normal" fill="#000" style="stroke-width:0.35px">***</text>
<text x="96.3" y="274.8" font-size="8.2" text-anchor="middle" font-weight="normal" fill="#000" >TNF-α</text>
<text x="22.8" y="330" font-size="6.6" text-anchor="middle" font-weight="normal" fill="#000" textLength="47.5" lengthAdjust="spacingAndGlyphs" transform="rotate(-90 22.8 330)" >TNF-α production</text>
<text x="30.4" y="330" font-size="6.6" text-anchor="middle" font-weight="normal" fill="#000" textLength="18.3" lengthAdjust="spacingAndGlyphs" transform="rotate(-90 30.4 330)" >(pg/ml)</text>
<text x="63" y="384.1" font-size="6.2" text-anchor="end" font-weight="normal" fill="#000" textLength="21" lengthAdjust="spacingAndGlyphs" >PolyI:C</text>
<text x="63" y="391.4" font-size="6.2" text-anchor="end" font-weight="normal" fill="#000" >R848</text>
<text x="69" y="384.1" font-size="6.2" text-anchor="middle" font-weight="normal" fill="#000" >0</text>
<text x="95.2" y="384.1" font-size="6.2" text-anchor="middle" font-weight="normal" fill="#000" >12.5</text>
<text x="118.7" y="384.1" font-size="6.2" text-anchor="middle" font-weight="normal" fill="#000" >125</text>
<text x="144.5" y="384.1" font-size="6.2" text-anchor="middle" font-weight="normal" fill="#000" >1250</text>
<text x="69" y="391.4" font-size="6.2" text-anchor="middle" font-weight="normal" fill="#000" >0</text>
<text x="93.9" y="391.4" font-size="6.2" text-anchor="middle" font-weight="normal" fill="#000" >4</text>
<text x="118.7" y="391.4" font-size="6.2" text-anchor="middle" font-weight="normal" fill="#000" >40</text>
<text x="143.3" y="391.4" font-size="6.2" text-anchor="middle" font-weight="normal" fill="#000" >400</text>
<text x="106.3" y="398" font-size="6.4" text-anchor="middle" font-weight="normal" fill="#000" >(ng/ml)</text>
<line x1="207.8" y1="289.2" x2="207.8" y2="378.5" stroke="#000" stroke-width="1.1" />
<line x1="207.3" y1="378.0" x2="303" y2="378.0" stroke="#000" stroke-width="0.9" />
<line x1="205.9" y1="378.0" x2="207.8" y2="378.0" stroke="#000" stroke-width="0.9" />
<text x="206.0" y="380.268" font-size="6.3" text-anchor="end" font-weight="normal" fill="#000" >0</text>
<line x1="205.9" y1="367.03" x2="207.8" y2="367.03" stroke="#000" stroke-width="0.9" />
<text x="206.0" y="369.29799999999994" font-size="6.3" text-anchor="end" font-weight="normal" fill="#000" >2000</text>
<line x1="205.9" y1="356.06" x2="207.8" y2="356.06" stroke="#000" stroke-width="0.9" />
<text x="206.0" y="358.328" font-size="6.3" text-anchor="end" font-weight="normal" fill="#000" >4000</text>
<line x1="205.9" y1="345.09" x2="207.8" y2="345.09" stroke="#000" stroke-width="0.9" />
<text x="206.0" y="347.35799999999995" font-size="6.3" text-anchor="end" font-weight="normal" fill="#000" >6000</text>
<line x1="205.9" y1="334.12" x2="207.8" y2="334.12" stroke="#000" stroke-width="0.9" />
<text x="206.0" y="336.388" font-size="6.3" text-anchor="end" font-weight="normal" fill="#000" >8000</text>
<line x1="205.9" y1="323.15" x2="207.8" y2="323.15" stroke="#000" stroke-width="0.9" />
<text x="206.0" y="325.41799999999995" font-size="6.3" text-anchor="end" font-weight="normal" fill="#000" >10000</text>
<line x1="205.9" y1="312.18" x2="207.8" y2="312.18" stroke="#000" stroke-width="0.9" />
<text x="206.0" y="314.448" font-size="6.3" text-anchor="end" font-weight="normal" fill="#000" >12000</text>
<line x1="205.9" y1="301.21" x2="207.8" y2="301.21" stroke="#000" stroke-width="0.9" />
<text x="206.0" y="303.47799999999995" font-size="6.3" text-anchor="end" font-weight="normal" fill="#000" >14000</text>
<line x1="205.9" y1="290.24" x2="207.8" y2="290.24" stroke="#000" stroke-width="0.9" />
<text x="206.0" y="292.508" font-size="6.3" text-anchor="end" font-weight="normal" fill="#000" >16000</text>
<line x1="219.4" y1="378.0" x2="219.4" y2="380.0" stroke="#000" stroke-width="0.9" />
<line x1="243.4" y1="378.0" x2="243.4" y2="380.0" stroke="#000" stroke-width="0.9" />
<line x1="267.3" y1="378.0" x2="267.3" y2="380.0" stroke="#000" stroke-width="0.9" />
<line x1="291.3" y1="378.0" x2="291.3" y2="380.0" stroke="#000" stroke-width="0.9" />
<line x1="243.4" y1="320.8" x2="243.4" y2="344.5" stroke="#000" stroke-width="0.8" />
<line x1="241.6" y1="320.8" x2="245.20000000000002" y2="320.8" stroke="#000" stroke-width="0.8" />
<line x1="241.6" y1="344.5" x2="245.20000000000002" y2="344.5" stroke="#000" stroke-width="0.8" />
<line x1="267.3" y1="304" x2="267.3" y2="323.5" stroke="#000" stroke-width="0.8" />
<line x1="265.5" y1="304" x2="269.1" y2="304" stroke="#000" stroke-width="0.8" />
<line x1="265.5" y1="323.5" x2="269.1" y2="323.5" stroke="#000" stroke-width="0.8" />
<line x1="291.3" y1="294.5" x2="291.3" y2="311.5" stroke="#000" stroke-width="0.8" />
<line x1="289.5" y1="294.5" x2="293.1" y2="294.5" stroke="#000" stroke-width="0.8" />
<line x1="289.5" y1="311.5" x2="293.1" y2="311.5" stroke="#000" stroke-width="0.8" />
<polyline points="243.4,332.5 267.3,313.3 291.3,302.5" fill="none" stroke="#000" stroke-width="1.1" stroke-linejoin="round" />
<polyline points="219.4,378.0 243.4,378.0 267.3,377.4" fill="none" stroke="#000" stroke-width="0.6" stroke-linejoin="round" />
<polyline points="267.3,377.4 291.3,368.4" fill="none" stroke="#000" stroke-width="1.0" stroke-linejoin="round" />
<polyline points="267.3,377.4 291.3,376.0" fill="none" stroke="#000" stroke-width="0.8" stroke-linejoin="round" />
<circle cx="243.4" cy="332.5" r="1.7" fill="#000"/>
<circle cx="267.3" cy="313.3" r="1.7" fill="#000"/>
<circle cx="291.3" cy="302.5" r="1.7" fill="#000"/>
<circle cx="219.4" cy="378.0" r="1.4" fill="#000"/>
<circle cx="243.4" cy="378.0" r="1.4" fill="#000"/>
<circle cx="267.3" cy="377.2" r="1.3" fill="#000"/>
<circle cx="291.3" cy="376" r="1.3" fill="#000"/>
<line x1="291.3" y1="366.6" x2="291.3" y2="370.2" stroke="#000" stroke-width="0.8" />
<line x1="289.90000000000003" y1="366.6" x2="292.7" y2="366.6" stroke="#000" stroke-width="0.8" />
<line x1="289.90000000000003" y1="370.2" x2="292.7" y2="370.2" stroke="#000" stroke-width="0.8" />
<circle cx="291.3" cy="368.4" r="1.6" fill="#fff" stroke="#000" stroke-width="0.9"/>
<text x="243.4" y="320.62" font-size="9.6" text-anchor="middle" font-weight="normal" fill="#000" style="stroke-width:0.35px">***</text>
<text x="267.3" y="302.71999999999997" font-size="9.6" text-anchor="middle" font-weight="normal" fill="#000" style="stroke-width:0.35px">***</text>
<text x="291.3" y="293.32" font-size="9.6" text-anchor="middle" font-weight="normal" fill="#000" style="stroke-width:0.35px">***</text>
<text x="248.5" y="275" font-size="8" text-anchor="middle" font-weight="normal" fill="#000" >IL-6</text>
<text x="175.8" y="332.7" font-size="6.1" text-anchor="middle" font-weight="normal" fill="#000" textLength="38.5" lengthAdjust="spacingAndGlyphs" transform="rotate(-90 175.8 332.7)" >IL-6 production</text>
<text x="183.2" y="332.7" font-size="6.1" text-anchor="middle" font-weight="normal" fill="#000" textLength="17.5" lengthAdjust="spacingAndGlyphs" transform="rotate(-90 183.2 332.7)" >(pg/ml)</text>
<text x="213.4" y="384.7" font-size="6.0" text-anchor="end" font-weight="normal" fill="#000" textLength="21" lengthAdjust="spacingAndGlyphs" >PolyI:C</text>
<text x="213.4" y="391.5" font-size="6.0" text-anchor="end" font-weight="normal" fill="#000" >R848</text>
<text x="219.4" y="384.7" font-size="6.0" text-anchor="middle" font-weight="normal" fill="#000" >0</text>
<text x="244.70000000000002" y="384.7" font-size="6.0" text-anchor="middle" font-weight="normal" fill="#000" >12.5</text>
<text x="267.3" y="384.7" font-size="6.0" text-anchor="middle" font-weight="normal" fill="#000" >125</text>
<text x="291.3" y="384.7" font-size="6.0" text-anchor="middle" font-weight="normal" fill="#000" >1250</text>
<text x="219.4" y="391.5" font-size="6.0" text-anchor="middle" font-weight="normal" fill="#000" >0</text>
<text x="243.4" y="391.5" font-size="6.0" text-anchor="middle" font-weight="normal" fill="#000" >4</text>
<text x="267.3" y="391.5" font-size="6.0" text-anchor="middle" font-weight="normal" fill="#000" >40</text>
<text x="291.3" y="391.5" font-size="6.0" text-anchor="middle" font-weight="normal" fill="#000" >400</text>
<text x="255.1" y="398" font-size="6.0" text-anchor="middle" font-weight="normal" fill="#000" >(ng/ml)</text>
<line x1="348.4" y1="289.5" x2="348.4" y2="377.5" stroke="#000" stroke-width="1.1" />
<line x1="347.9" y1="377.0" x2="453.8" y2="377.0" stroke="#000" stroke-width="1.0" />
<line x1="345.2" y1="377.0" x2="348.4" y2="377.0" stroke="#000" stroke-width="0.9" />
<text x="345.3" y="379.592" font-size="7.2" text-anchor="end" font-weight="normal" fill="#000" >0</text>
<line x1="345.2" y1="361.3" x2="348.4" y2="361.3" stroke="#000" stroke-width="0.9" />
<text x="345.3" y="363.892" font-size="7.2" text-anchor="end" font-weight="normal" fill="#000" >200</text>
<line x1="345.2" y1="345.6" x2="348.4" y2="345.6" stroke="#000" stroke-width="0.9" />
<text x="345.3" y="348.192" font-size="7.2" text-anchor="end" font-weight="normal" fill="#000" >400</text>
<line x1="345.2" y1="329.9" x2="348.4" y2="329.9" stroke="#000" stroke-width="0.9" />
<text x="345.3" y="332.49199999999996" font-size="7.2" text-anchor="end" font-weight="normal" fill="#000" >600</text>
<line x1="345.2" y1="314.2" x2="348.4" y2="314.2" stroke="#000" stroke-width="0.9" />
<text x="345.3" y="316.792" font-size="7.2" text-anchor="end" font-weight="normal" fill="#000" >800</text>
<line x1="345.2" y1="298.5" x2="348.4" y2="298.5" stroke="#000" stroke-width="0.9" />
<text x="345.3" y="301.092" font-size="7.2" text-anchor="end" font-weight="normal" fill="#000" >1000</text>
<line x1="361.9" y1="377.0" x2="361.9" y2="379.0" stroke="#000" stroke-width="0.9" />
<line x1="388.3" y1="377.0" x2="388.3" y2="379.0" stroke="#000" stroke-width="0.9" />
<line x1="414.3" y1="377.0" x2="414.3" y2="379.0" stroke="#000" stroke-width="0.9" />
<line x1="440.7" y1="377.0" x2="440.7" y2="379.0" stroke="#000" stroke-width="0.9" />
<line x1="388.3" y1="365.7" x2="388.3" y2="373.8" stroke="#000" stroke-width="0.8" />
<line x1="386.5" y1="365.7" x2="390.1" y2="365.7" stroke="#000" stroke-width="0.8" />
<line x1="386.5" y1="373.8" x2="390.1" y2="373.8" stroke="#000" stroke-width="0.8" />
<line x1="414.3" y1="338.8" x2="414.3" y2="362.7" stroke="#000" stroke-width="0.8" />
<line x1="412.5" y1="338.8" x2="416.1" y2="338.8" stroke="#000" stroke-width="0.8" />
<line x1="412.5" y1="362.7" x2="416.1" y2="362.7" stroke="#000" stroke-width="0.8" />
<line x1="440.7" y1="294.5" x2="440.7" y2="328.9" stroke="#000" stroke-width="0.8" />
<line x1="438.9" y1="294.5" x2="442.5" y2="294.5" stroke="#000" stroke-width="0.8" />
<line x1="438.9" y1="328.9" x2="442.5" y2="328.9" stroke="#000" stroke-width="0.8" />
<line x1="440.7" y1="331.9" x2="440.7" y2="360.3" stroke="#000" stroke-width="0.8" />
<line x1="438.9" y1="331.9" x2="442.5" y2="331.9" stroke="#000" stroke-width="0.8" />
<line x1="438.9" y1="360.3" x2="442.5" y2="360.3" stroke="#000" stroke-width="0.8" />
<polyline points="388.3,369.9 414.3,350.7 440.7,311.8" fill="none" stroke="#000" stroke-width="1.1" stroke-linejoin="round" />
<polyline points="361.9,377.0 388.3,377.0 414.3,377.0" fill="none" stroke="#000" stroke-width="0.6" stroke-linejoin="round" />
<polyline points="414.3,377.0 440.7,346.3" fill="none" stroke="#000" stroke-width="1.1" stroke-linejoin="round" />
<polyline points="414.3,377.0 440.7,377.0" fill="none" stroke="#000" stroke-width="0.6" stroke-linejoin="round" />
<circle cx="388.3" cy="369.9" r="1.7" fill="#000"/>
<circle cx="414.3" cy="350.7" r="1.7" fill="#000"/>
<circle cx="440.7" cy="311.8" r="1.7" fill="#000"/>
<circle cx="361.9" cy="377.0" r="1.5" fill="#000"/>
<circle cx="388.3" cy="377.0" r="1.5" fill="#000"/>
<circle cx="440.7" cy="377.0" r="1.3" fill="#000"/>
<circle cx="414.3" cy="376.8" r="1.7" fill="#000"/>
<circle cx="440.7" cy="346.3" r="1.8" fill="#fff" stroke="#000" stroke-width="0.9"/>
<text x="440.7" y="292.82" font-size="9.6" text-anchor="middle" font-weight="normal" fill="#000" style="stroke-width:0.35px">*</text>
<text x="397" y="275" font-size="8" text-anchor="middle" font-weight="normal" fill="#000" >IL-12p70</text>
<text x="316.2" y="332.1" font-size="6.7" text-anchor="middle" font-weight="normal" fill="#000" textLength="46.2" lengthAdjust="spacingAndGlyphs" transform="rotate(-90 316.2 332.1)" >IL-12 production</text>
<text x="325.5" y="332.1" font-size="6.7" text-anchor="middle" font-weight="normal" fill="#000" textLength="19.8" lengthAdjust="spacingAndGlyphs" transform="rotate(-90 325.5 332.1)" >(pg/ml)</text>
<text x="355.3" y="384.9" font-size="6.9" text-anchor="end" font-weight="normal" fill="#000" textLength="23.2" lengthAdjust="spacingAndGlyphs" >PolyI:C</text>
<text x="355.3" y="391.9" font-size="6.9" text-anchor="end" font-weight="normal" fill="#000" >R848</text>
<text x="361.9" y="384.9" font-size="6.9" text-anchor="middle" font-weight="normal" fill="#000" >0</text>
<text x="389.6" y="384.9" font-size="6.9" text-anchor="middle" font-weight="normal" fill="#000" >12.5</text>
<text x="414.3" y="384.9" font-size="6.9" text-anchor="middle" font-weight="normal" fill="#000" >125</text>
<text x="442.09999999999997" y="384.9" font-size="6.9" text-anchor="middle" font-weight="normal" fill="#000" >1250</text>
<text x="361.9" y="391.9" font-size="6.9" text-anchor="middle" font-weight="normal" fill="#000" >0</text>
<text x="388.3" y="391.9" font-size="6.9" text-anchor="middle" font-weight="normal" fill="#000" >4</text>
<text x="414.3" y="391.9" font-size="6.9" text-anchor="middle" font-weight="normal" fill="#000" >40</text>
<text x="440.7" y="391.9" font-size="6.9" text-anchor="middle" font-weight="normal" fill="#000" >400</text>
<text x="401" y="397.4" font-size="6.7" text-anchor="middle" font-weight="normal" fill="#000" >(ng/ml)</text>
<line x1="452.40000000000003" y1="300.8" x2="459.2" y2="300.8" stroke="#000" stroke-width="0.9" />
<circle cx="455.8" cy="300.8" r="1.5" fill="#000"/>
<text x="463.5" y="303.2" font-size="6.4" text-anchor="start" font-weight="normal" fill="#000" textLength="55" lengthAdjust="spacingAndGlyphs" >NP-DC-SIGN-TLRL</text>
<line x1="452.40000000000003" y1="307.3" x2="459.2" y2="307.3" stroke="#000" stroke-width="0.9" />
<circle cx="455.8" cy="307.3" r="1.4" fill="#fff" stroke="#000" stroke-width="0.9"/>
<text x="463.5" y="309.7" font-size="6.4" text-anchor="start" font-weight="normal" fill="#000" >Soluble TLRL</text>
<line x1="452.40000000000003" y1="313.8" x2="459.2" y2="313.8" stroke="#000" stroke-width="0.9" />
<polygon points="455.8,312.2 457.40000000000003,315.08 454.2,315.08" fill="#000"/>
<text x="463.5" y="316.2" font-size="6.4" text-anchor="start" font-weight="normal" fill="#000" >NP-Isotype-TLRL</text>
<line x1="452.40000000000003" y1="320.4" x2="459.2" y2="320.4" stroke="#000" stroke-width="0.9" />
<circle cx="455.8" cy="320.4" r="1.2" fill="#000"/>
<text x="463.5" y="322.79999999999995" font-size="6.4" text-anchor="start" font-weight="normal" fill="#000" >iDC</text>
</svg>
</body></html>
